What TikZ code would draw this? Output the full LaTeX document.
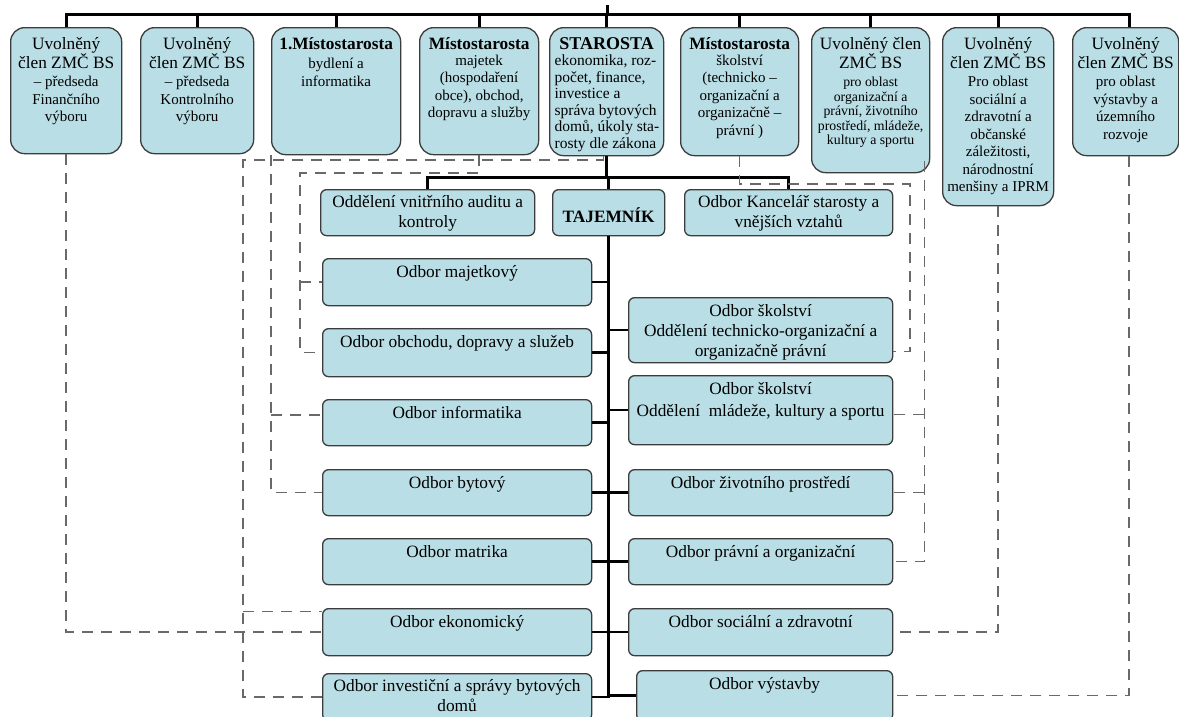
\documentclass[tikz,border=0pt]{standalone}
\usepackage{fontspec}
\setmainfont{Liberation Serif}
\usetikzlibrary{calc}
\definecolor{boxfill}{RGB}{185,222,229}
\definecolor{boxline}{RGB}{60,60,60}
\definecolor{dashgray}{RGB}{105,105,105}
\newcommand{\BF}{\fontsize{17.3}{17.5}\selectfont}
\newcommand{\SF}{\fontsize{15}{17.5}\selectfont}
\newcommand{\MF}{\fontsize{17.3}{20}\selectfont}
% top box: width, height, content (top aligned)
\newcommand{\TopT}[3]{\parbox[c][#2][t]{#1}{\lineskiplimit=-50pt\centering\SF #3}}
% lower box: width, height, first baseline, content (top aligned)
\newcommand{\LowT}[4]{\parbox[c][#2][t]{#1}{\lineskiplimit=-50pt\centering\MF\rule{0pt}{#3}#4}}
\begin{document}
\begin{tikzpicture}[x=1pt,y=-1pt,
  topbox/.style={draw=boxline, fill=boxfill, line width=1.3pt, rounded corners=14pt, inner sep=0pt, anchor=north west},
  midbox/.style={draw=boxline, fill=boxfill, line width=1.3pt, rounded corners=6pt, inner sep=0pt, anchor=north west},
  tree/.style={line width=3pt, draw=black},
  branch/.style={line width=2.6pt, draw=black},
  dashline/.style={draw=dashgray, line width=1.4pt, dash pattern=on 11pt off 8pt}
]
\useasboundingbox (0,0) rectangle (1179,716);
\fill[white] (0,0) rectangle (1179,716);

% ---------- top row ----------
\node[topbox] (b1) at (10,27) {\TopT{111pt}{126pt}{\rule{0pt}{21.5pt}{\BF Uvolněný}\\[1.5pt]{\BF člen ZMČ BS}\\[1.2pt]– předseda\\Finančního\\výboru}};
\node[topbox] (b2) at (140,27) {\TopT{113pt}{126pt}{\rule{0pt}{21.5pt}{\BF Uvolněný}\\[1.5pt]{\BF člen ZMČ BS}\\[1.2pt]– předseda\\Kontrolního\\výboru}};
\node[topbox] (b3) at (271,27) {\TopT{129pt}{127pt}{\rule{0pt}{21.5pt}{\BF\bfseries 1.Místostarosta}\\[2.3pt]bydlení a\\informatika}};
\node[topbox] (b4) at (419,27) {\TopT{119pt}{127pt}{\rule{0pt}{21.5pt}{\BF\bfseries Místostarosta}\\[-1.2pt]majetek\\(hospodaření\\obce), obchod,\\dopravu a služby}};
\node[topbox] (b5) at (549,27) {\parbox[c][128pt][t]{114pt}{\lineskiplimit=-50pt\fontsize{15.5}{16.5}\selectfont\centering\rule{0pt}{21.5pt}{\fontsize{18}{16.5}\selectfont\bfseries STAROSTA}\par\raggedright\leftskip=5pt ekonomika, roz-\\počet, finance,\\investice a\\správa bytových\\domů, úkoly sta-\\rosty dle zákona}};
\node[topbox] (b6) at (680,27) {\TopT{118pt}{128pt}{\rule{0pt}{21.5pt}{\BF\bfseries Místostarosta}\\[-1.2pt]školství\\(technicko –\\organizační a\\organizačně –\\právní )}};
\node[topbox] (b7) at (811,27) {\parbox[c][145pt][t]{118pt}{\lineskiplimit=-50pt\centering\fontsize{13.8}{14.5}\selectfont\rule{0pt}{21.5pt}{\BF Uvolněný člen}\\[4.5pt]{\BF ZMČ BS}\\[4.2pt]pro oblast\\organizační a\\právní, životního\\prostředí, mládeže,\\kultury a sportu}};
\node[topbox] (b8) at (942,27) {\TopT{111pt}{178pt}{\rule{0pt}{21.5pt}{\BF Uvolněný}\\[1.5pt]{\BF člen ZMČ BS}\\[1.2pt]Pro oblast\\sociální a\\zdravotní a\\občanské\\záležitosti,\\národnostní\\menšiny a IPRM}};
\node[topbox] (b9) at (1072,27) {\TopT{106pt}{128pt}{\rule{0pt}{21.5pt}{\BF Uvolněný}\\[1.5pt]{\BF člen ZMČ BS}\\[1.2pt]pro oblast\\výstavby a\\územního\\rozvoje}};

% ---------- second row ----------
\node[midbox] (audit) at (320,189) {\LowT{214pt}{46pt}{18pt}{Oddělení vnitřního auditu a\\kontroly}};
\node[midbox] (taj) at (552,189) {\LowT{112pt}{46pt}{33pt}{\bfseries TAJEMNÍK}};
\node[midbox] (kanc) at (684,189) {\LowT{208pt}{46pt}{18pt}{Odbor Kancelář starosty a\\vnějších vztahů}};

% ---------- left column ----------
\node[midbox] (maj)  at (322,258) {\LowT{269pt}{47pt}{18.5pt}{Odbor majetkový}};
\node[midbox] (obch) at (322,328) {\LowT{269pt}{48pt}{18.5pt}{Odbor obchodu, dopravy a služeb}};
\node[midbox] (info) at (322,399) {\LowT{269pt}{46pt}{18.5pt}{Odbor informatika}};
\node[midbox] (byt)  at (322,469) {\LowT{269pt}{46pt}{18.5pt}{Odbor bytový}};
\node[midbox] (matr) at (322,538) {\LowT{269pt}{46pt}{18.5pt}{Odbor matrika}};
\node[midbox] (ekon) at (322,608) {\LowT{269pt}{47pt}{18.5pt}{Odbor ekonomický}};
\node[midbox] (inv)  at (322,673) {\LowT{269pt}{47pt}{18pt}{Odbor investiční a správy bytových\\domů}};

% ---------- right column ----------
\node[midbox] (sk1)  at (628,297) {\LowT{264pt}{65pt}{18.5pt}{Odbor školství\\Oddělení technicko-organizační a\\organizačně právní}};
\node[midbox] (sk2)  at (628,375) {\LowT{264pt}{69pt}{18.5pt}{Odbor školství\\[2.4pt]Oddělení\ \ mládeže, kultury a sportu}};
\node[midbox] (ziv)  at (628,469) {\LowT{264pt}{46pt}{18.5pt}{Odbor životního prostředí}};
\node[midbox] (prav) at (628,538) {\LowT{264pt}{46pt}{18.5pt}{Odbor právní a organizační}};
\node[midbox] (soc)  at (628,608) {\LowT{264pt}{47pt}{18.5pt}{Odbor sociální a zdravotní}};
\node[midbox] (vyst) at (636,670) {\LowT{256pt}{50pt}{18.5pt}{Odbor výstavby}};

% ---------- solid tree ----------
\coordinate (root) at (607,5);
\coordinate (hl) at (607,14);
\coordinate (b9t) at (1129,27);
\draw[tree] (root) -- (hl);
\draw[tree] (b1.north) |- (hl) -| (b9t);
\foreach \b in {b2,b3,b4,b5,b6,b7,b8} \draw[tree] (\b.north) -- (\b.north |- hl);
\coordinate (h2) at (607,177);
\draw[tree] (b5.south) -- (b5.south |- h2);
\draw[tree] (audit.north) |- (h2) -| (kanc.north);
\draw[tree] (taj.north |- h2) -- (taj.north);
\coordinate (tend) at (608,698);
\draw[tree] (taj.south) -- (taj.south |- tend);
\foreach \n in {maj,obch,info,byt,matr,ekon,inv} \draw[branch] (\n.east) -- (\n.east -| taj.south);
\foreach \n in {sk1,sk2,ziv,prav,soc,vyst} \draw[branch] (\n.west) -- (\n.west -| taj.south);

% ---------- dashed responsibility lines ----------
\draw[dashline] (b1.south) |- (ekon.west);
\coordinate (i1) at ([yshift=7.5pt]info.west);
\draw[dashline] (b3.south west) |- (byt.west);
\draw[dashline] (b3.south west |- i1) -- (i1);
\coordinate (d3) at (300,173);
\draw[dashline] (b4.south) |- (d3) |- (obch.west);
\draw[dashline] (d3 |- maj.west) -- (maj.west);
\coordinate (d4s) at ([xshift=-3pt]b5.south);
\coordinate (d4) at (243,160);
\draw[dashline] (d4s) |- (d4) |- (inv.west);
\coordinate (e1) at ([yshift=20.5pt]ekon.west);
\draw[dashline] (d4 |- e1) -- (e1);
\coordinate (d5) at (910,184);
\coordinate (s1) at ([yshift=-21.5pt]sk1.east);
\draw[dashline] (b6.south) |- (d5) |- (s1);
\coordinate (d6) at ([xshift=-6pt,yshift=12pt]b7.south east);
\coordinate (s2) at ([yshift=-4.5pt]sk2.east);
\draw[dashline] (d6) |- (prav.east);
\draw[dashline] (d6 |- s2) -- (s2);
\draw[dashline] (d6 |- ziv.east) -- (ziv.east);
\draw[dashline] (b8.south) |- (soc.east);
\coordinate (b9d) at (b9.south -| b9t);
\draw[dashline] (b9d) |- (vyst.east);
\end{tikzpicture}
\end{document}
